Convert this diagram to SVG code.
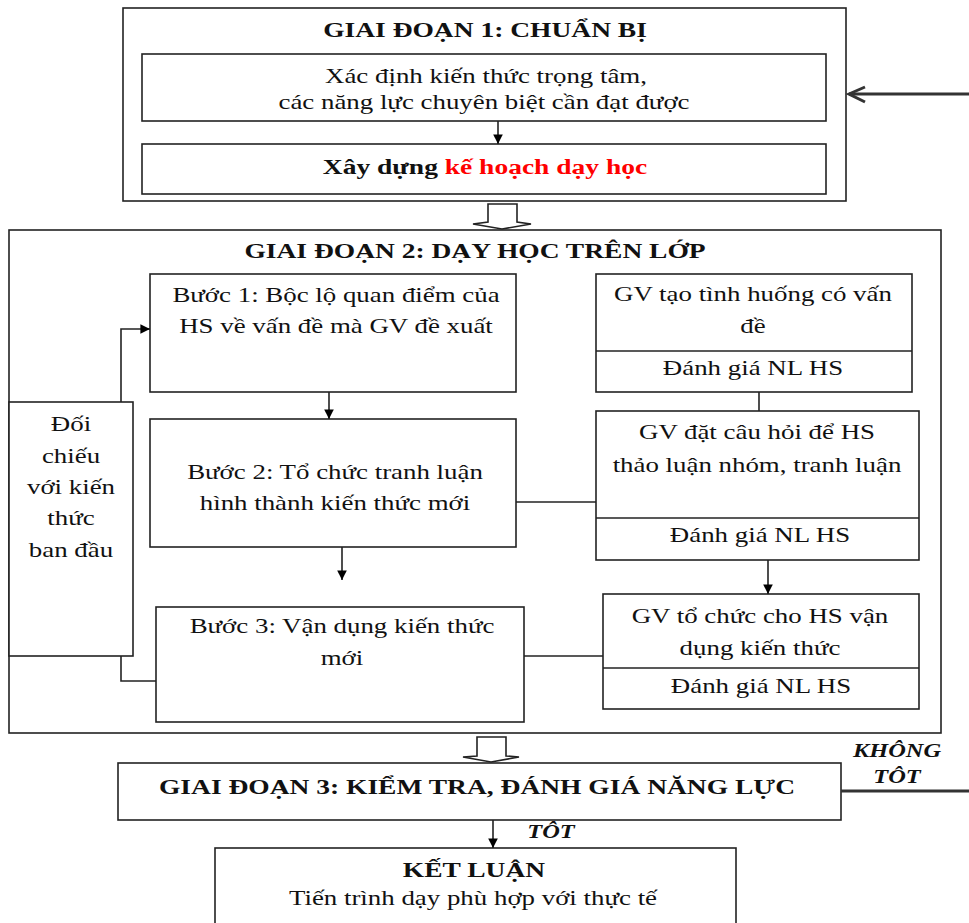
<svg xmlns="http://www.w3.org/2000/svg" width="969" height="923" viewBox="0 0 969 923">
<defs>
<style>
rect.box{fill:#fff;stroke:#222;stroke-width:1.6}
.ln{fill:none;stroke:#222;stroke-width:1.6}
.thick{fill:none;stroke:#333;stroke-width:3}
text{font-family:"Liberation Serif","Times New Roman",serif;font-size:21.5px;fill:#111;text-anchor:middle}
text.b{font-weight:bold;font-size:22px}
text.bi{font-weight:bold;font-style:italic;font-size:19.5px}
.red{fill:#ff0000}
</style>
<marker id="ah" viewBox="0 0 10 10" refX="10" refY="5" markerWidth="6" markerHeight="6" markerUnits="strokeWidth" orient="auto">
<path d="M0,0 L10,5 L0,10 z" fill="#000"/>
</marker>
</defs>
<rect width="969" height="923" fill="#fff"/>

<g id="stage1">
<rect class="box" x="123" y="8" width="723" height="193"/>
<text class="b" transform="translate(485 37) scale(1.25 1)">GIAI ĐOẠN 1: CHUẨN BỊ</text>
</g>
<g id="box-xacdinh">
<rect class="box" x="142" y="54" width="684" height="67"/>
<text transform="translate(486 83) scale(1.25 1)">Xác định kiến thức trọng tâm,</text>
<text transform="translate(484 109) scale(1.25 1)">các năng lực chuyên biệt cần đạt được</text>
</g>
<g id="box-kehoach">
<rect class="box" x="142" y="144" width="684" height="50"/>
<text class="b" transform="translate(485 174) scale(1.25 1)">Xây dựng <tspan class="red">kế hoạch dạy học</tspan></text>
</g>

<g id="stage2">
<rect class="box" x="9" y="230" width="932" height="503"/>
<text class="b" transform="translate(475 258) scale(1.25 1)">GIAI ĐOẠN 2: DẠY HỌC TRÊN LỚP</text>
</g>
<g id="buoc1">
<rect class="box" x="150" y="274" width="366" height="118"/>
<text transform="translate(336 302) scale(1.25 1)">Bước 1: Bộc lộ quan điểm của</text>
<text transform="translate(336 333) scale(1.25 1)">HS về vấn đề mà GV đề xuất</text>
</g>
<g id="buoc2">
<rect class="box" x="150" y="419" width="366" height="128"/>
<text transform="translate(335 479) scale(1.25 1)">Bước 2: Tổ chức tranh luận</text>
<text transform="translate(335 510) scale(1.25 1)">hình thành kiến thức mới</text>
</g>
<g id="buoc3">
<rect class="box" x="156" y="607" width="368" height="115"/>
<text transform="translate(342 633) scale(1.25 1)">Bước 3: Vận dụng kiến thức</text>
<text transform="translate(342 665) scale(1.25 1)">mới</text>
</g>
<g id="doichieu">
<rect class="box" x="9" y="402" width="124" height="254"/>
<text transform="translate(71 431) scale(1.25 1)">Đối</text>
<text transform="translate(71 463) scale(1.25 1)">chiếu</text>
<text transform="translate(71 494) scale(1.25 1)">với kiến</text>
<text transform="translate(71 525) scale(1.25 1)">thức</text>
<text transform="translate(71 557) scale(1.25 1)">ban đầu</text>
</g>
<g id="gv-tao">
<rect class="box" x="596" y="274" width="316" height="118"/>
<line class="ln" x1="596" y1="351" x2="912" y2="351"/>
<text transform="translate(753 301) scale(1.25 1)">GV tạo tình huống có vấn</text>
<text transform="translate(753 333) scale(1.25 1)">đề</text>
<text transform="translate(753 375) scale(1.25 1)">Đánh giá NL HS</text>
</g>
<g id="gv-dat">
<rect class="box" x="596" y="411" width="323" height="149"/>
<line class="ln" x1="596" y1="518" x2="919" y2="518"/>
<text transform="translate(757 439) scale(1.25 1)">GV đặt câu hỏi để HS</text>
<text transform="translate(757 472) scale(1.25 1)">thảo luận nhóm, tranh luận</text>
<text transform="translate(760 542) scale(1.25 1)">Đánh giá NL HS</text>
</g>
<g id="gv-to">
<rect class="box" x="603" y="594" width="316" height="115"/>
<line class="ln" x1="603" y1="668" x2="919" y2="668"/>
<text transform="translate(760 623) scale(1.25 1)">GV tổ chức cho HS vận</text>
<text transform="translate(760 655) scale(1.25 1)">dụng kiến thức</text>
<text transform="translate(761 693) scale(1.25 1)">Đánh giá NL HS</text>
</g>

<g id="stage3">
<rect class="box" x="118" y="763" width="723" height="57"/>
<text class="b" transform="translate(477 794) scale(1.25 1)">GIAI ĐOẠN 3: KIỂM TRA, ĐÁNH GIÁ NĂNG LỰC</text>
</g>
<g id="ketluan">
<rect class="box" x="215" y="848" width="521" height="90"/>
<text class="b" transform="translate(474 877) scale(1.25 1)">KẾT LUẬN</text>
<text transform="translate(473 905) scale(1.25 1)">Tiến trình dạy phù hợp với thực tế</text>
</g>

<g id="connectors">
<line class="ln" x1="498" y1="121" x2="498" y2="144" marker-end="url(#ah)"/>
<polygon class="ln" fill="#fff" points="488,204 517,204 517,222 531,224 502,229 473,224 488,222"/>
<line class="ln" x1="329" y1="392" x2="329" y2="419" marker-end="url(#ah)"/>
<line class="ln" x1="342" y1="547" x2="342" y2="580" marker-end="url(#ah)"/>
<line class="ln" x1="768" y1="560" x2="768" y2="594" marker-end="url(#ah)"/>
<line class="ln" x1="759" y1="392" x2="759" y2="411"/>
<line class="ln" x1="516" y1="502" x2="596" y2="502"/>
<line class="ln" x1="524" y1="656" x2="603" y2="656"/>
<path class="ln" d="M121,402 V329 H150" marker-end="url(#ah)"/>
<path class="ln" d="M121,656 V681 H156"/>
<polygon class="ln" fill="#fff" points="477,737 506,737 506,756 519,757 491,762 463,757 477,756"/>
<line class="ln" x1="493" y1="820" x2="493" y2="848" marker-end="url(#ah)"/>
<line class="thick" x1="969" y1="94" x2="849" y2="94"/>
<path class="thick" d="M865,87 L849,94 L865,102"/>
<line class="thick" x1="841" y1="791" x2="969" y2="791"/>
<text class="bi" transform="translate(897 757) scale(1.25 1)">KHÔNG</text>
<text class="bi" transform="translate(897 783) scale(1.25 1)">TÔT</text>
<text class="bi" transform="translate(551 838) scale(1.25 1)">TÔT</text>
</g>
</svg>
